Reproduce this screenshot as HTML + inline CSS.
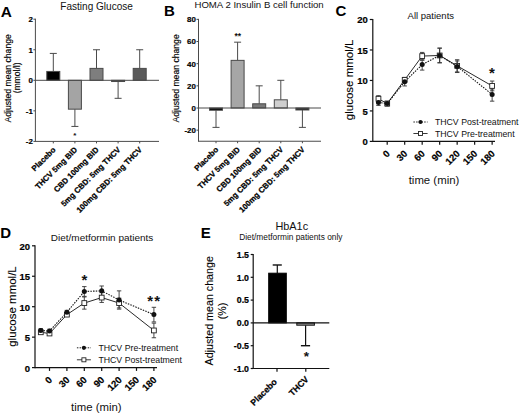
<!DOCTYPE html>
<html><head><meta charset="utf-8"><style>
html,body{margin:0;padding:0;background:#fff;}
body{width:520px;height:414px;overflow:hidden;}
svg{display:block;}
text{font-family:"Liberation Sans", sans-serif;}
</style></head><body>
<svg width="520" height="414" viewBox="0 0 520 414">
<rect width="520" height="414" fill="#fff"/>
<text x="0.80" y="16.50" font-size="15.4" font-weight="bold" text-anchor="start" fill="#000">A</text>
<text x="164.10" y="15.60" font-size="15" font-weight="bold" text-anchor="start" fill="#000">B</text>
<text x="335.50" y="16.30" font-size="15" font-weight="bold" text-anchor="start" fill="#000">C</text>
<text x="0.30" y="238.30" font-size="15" font-weight="bold" text-anchor="start" fill="#000">D</text>
<text x="200.80" y="237.80" font-size="15" font-weight="bold" text-anchor="start" fill="#000">E</text>
<g>
<text x="96.60" y="9.80" font-size="10.05" text-anchor="middle" fill="#111">Fasting Glucose</text>
<text x="11.30" y="78.35" font-size="8.63" text-anchor="middle" fill="#000" transform="rotate(-90 11.30 78.35)" stroke="#000" stroke-width="0.15">Adjusted mean change</text>
<text x="19.90" y="77.85" font-size="8.5" text-anchor="middle" fill="#000" transform="rotate(-90 19.90 77.85)" stroke="#000" stroke-width="0.15">(mmol/l)</text>
<line x1="53.30" y1="71.44" x2="53.30" y2="53.42" stroke="#4a4a4a" stroke-width="1"/>
<line x1="49.80" y1="53.42" x2="56.80" y2="53.42" stroke="#4a4a4a" stroke-width="1"/>
<rect x="46.80" y="71.44" width="13.00" height="8.86" fill="#000" stroke="#4a4a4a" stroke-width="1"/>
<line x1="74.90" y1="109.17" x2="74.90" y2="126.43" stroke="#4a4a4a" stroke-width="1"/>
<line x1="71.40" y1="126.43" x2="78.40" y2="126.43" stroke="#4a4a4a" stroke-width="1"/>
<rect x="68.40" y="80.30" width="13.00" height="28.87" fill="#a4a4a4" stroke="#4a4a4a" stroke-width="1"/>
<line x1="96.50" y1="68.39" x2="96.50" y2="49.75" stroke="#4a4a4a" stroke-width="1"/>
<line x1="93.00" y1="49.75" x2="100.00" y2="49.75" stroke="#4a4a4a" stroke-width="1"/>
<rect x="90.00" y="68.39" width="13.00" height="11.91" fill="#7e7e7e" stroke="#4a4a4a" stroke-width="1"/>
<line x1="118.10" y1="81.52" x2="118.10" y2="98.32" stroke="#4a4a4a" stroke-width="1"/>
<line x1="114.60" y1="98.32" x2="121.60" y2="98.32" stroke="#4a4a4a" stroke-width="1"/>
<rect x="111.60" y="80.30" width="13.00" height="1.22" fill="#333" stroke="#4a4a4a" stroke-width="1"/>
<line x1="139.70" y1="68.39" x2="139.70" y2="49.75" stroke="#4a4a4a" stroke-width="1"/>
<line x1="136.20" y1="49.75" x2="143.20" y2="49.75" stroke="#4a4a4a" stroke-width="1"/>
<rect x="133.20" y="68.39" width="13.00" height="11.91" fill="#5a5a5a" stroke="#4a4a4a" stroke-width="1"/>
<line x1="35.40" y1="18.70" x2="35.40" y2="141.90" stroke="#4a4a4a" stroke-width="1"/>
<line x1="35.40" y1="141.40" x2="159.00" y2="141.40" stroke="#4a4a4a" stroke-width="1"/>
<line x1="35.40" y1="80.30" x2="159.00" y2="80.30" stroke="#4a4a4a" stroke-width="1"/>
<line x1="33.40" y1="19.20" x2="35.40" y2="19.20" stroke="#4a4a4a" stroke-width="1"/>
<text x="32.80" y="22.04" font-size="7.9" font-weight="bold" text-anchor="end" fill="#000" stroke="#000" stroke-width="0.2">2</text>
<line x1="33.40" y1="49.75" x2="35.40" y2="49.75" stroke="#4a4a4a" stroke-width="1"/>
<text x="32.80" y="52.59" font-size="7.9" font-weight="bold" text-anchor="end" fill="#000" stroke="#000" stroke-width="0.2">1</text>
<line x1="33.40" y1="80.30" x2="35.40" y2="80.30" stroke="#4a4a4a" stroke-width="1"/>
<text x="32.80" y="83.14" font-size="7.9" font-weight="bold" text-anchor="end" fill="#000" stroke="#000" stroke-width="0.2">0</text>
<line x1="33.40" y1="110.85" x2="35.40" y2="110.85" stroke="#4a4a4a" stroke-width="1"/>
<text x="32.80" y="113.69" font-size="7.9" font-weight="bold" text-anchor="end" fill="#000" stroke="#000" stroke-width="0.2">-1</text>
<line x1="33.40" y1="141.40" x2="35.40" y2="141.40" stroke="#4a4a4a" stroke-width="1"/>
<text x="32.80" y="144.24" font-size="7.9" font-weight="bold" text-anchor="end" fill="#000" stroke="#000" stroke-width="0.2">-2</text>
<line x1="53.30" y1="141.40" x2="53.30" y2="143.40" stroke="#4a4a4a" stroke-width="1"/>
<text x="56.20" y="150.30" font-size="7.9" font-weight="bold" text-anchor="end" fill="#000" transform="rotate(-45 56.20 150.30)" stroke="#000" stroke-width="0.25">Placebo</text>
<line x1="74.90" y1="141.40" x2="74.90" y2="143.40" stroke="#4a4a4a" stroke-width="1"/>
<text x="77.80" y="150.30" font-size="7.9" font-weight="bold" text-anchor="end" fill="#000" transform="rotate(-45 77.80 150.30)" stroke="#000" stroke-width="0.25">THCV 5mg BID</text>
<line x1="96.50" y1="141.40" x2="96.50" y2="143.40" stroke="#4a4a4a" stroke-width="1"/>
<text x="99.40" y="150.30" font-size="7.9" font-weight="bold" text-anchor="end" fill="#000" transform="rotate(-45 99.40 150.30)" stroke="#000" stroke-width="0.25">CBD 100mg BID</text>
<line x1="118.10" y1="141.40" x2="118.10" y2="143.40" stroke="#4a4a4a" stroke-width="1"/>
<text x="121.00" y="150.30" font-size="7.9" font-weight="bold" text-anchor="end" fill="#000" transform="rotate(-45 121.00 150.30)" stroke="#000" stroke-width="0.25">5mg CBD: 5mg THCV</text>
<line x1="139.70" y1="141.40" x2="139.70" y2="143.40" stroke="#4a4a4a" stroke-width="1"/>
<text x="142.60" y="150.30" font-size="7.9" font-weight="bold" text-anchor="end" fill="#000" transform="rotate(-45 142.60 150.30)" stroke="#000" stroke-width="0.25">100mg CBD: 5mg THCV</text>
<text x="74.90" y="137.90" font-size="8" font-weight="bold" text-anchor="middle" fill="#111">*</text>
<text x="259.10" y="7.80" font-size="9.62" text-anchor="middle" fill="#111">HOMA 2 Insulin B cell function</text>
<text x="179.30" y="78.40" font-size="8.63" text-anchor="middle" fill="#000" transform="rotate(-90 179.30 78.40)" stroke="#000" stroke-width="0.15">Adjusted mean change</text>
<line x1="216.00" y1="110.22" x2="216.00" y2="127.39" stroke="#4a4a4a" stroke-width="1"/>
<line x1="212.50" y1="127.39" x2="219.50" y2="127.39" stroke="#4a4a4a" stroke-width="1"/>
<rect x="209.50" y="108.00" width="13.00" height="2.22" fill="#000" stroke="#4a4a4a" stroke-width="1"/>
<line x1="237.60" y1="60.36" x2="237.60" y2="42.18" stroke="#4a4a4a" stroke-width="1"/>
<line x1="234.10" y1="42.18" x2="241.10" y2="42.18" stroke="#4a4a4a" stroke-width="1"/>
<rect x="231.10" y="60.36" width="13.00" height="47.64" fill="#a6a6a6" stroke="#4a4a4a" stroke-width="1"/>
<line x1="259.20" y1="103.79" x2="259.20" y2="85.84" stroke="#4a4a4a" stroke-width="1"/>
<line x1="255.70" y1="85.84" x2="262.70" y2="85.84" stroke="#4a4a4a" stroke-width="1"/>
<rect x="252.70" y="103.79" width="13.00" height="4.21" fill="#7a7a7a" stroke="#4a4a4a" stroke-width="1"/>
<line x1="280.80" y1="99.80" x2="280.80" y2="80.30" stroke="#4a4a4a" stroke-width="1"/>
<line x1="277.30" y1="80.30" x2="284.30" y2="80.30" stroke="#4a4a4a" stroke-width="1"/>
<rect x="274.30" y="99.80" width="13.00" height="8.20" fill="#cfcfcf" stroke="#4a4a4a" stroke-width="1"/>
<line x1="302.40" y1="109.99" x2="302.40" y2="127.39" stroke="#4a4a4a" stroke-width="1"/>
<line x1="298.90" y1="127.39" x2="305.90" y2="127.39" stroke="#4a4a4a" stroke-width="1"/>
<rect x="295.90" y="108.00" width="13.00" height="1.99" fill="#222" stroke="#4a4a4a" stroke-width="1"/>
<line x1="198.50" y1="18.86" x2="198.50" y2="141.74" stroke="#4a4a4a" stroke-width="1"/>
<line x1="198.50" y1="141.24" x2="321.00" y2="141.24" stroke="#4a4a4a" stroke-width="1"/>
<line x1="198.50" y1="108.00" x2="321.00" y2="108.00" stroke="#4a4a4a" stroke-width="1"/>
<line x1="196.50" y1="19.36" x2="198.50" y2="19.36" stroke="#4a4a4a" stroke-width="1"/>
<text x="195.90" y="22.20" font-size="7.9" font-weight="bold" text-anchor="end" fill="#000" stroke="#000" stroke-width="0.2">80</text>
<line x1="196.50" y1="41.52" x2="198.50" y2="41.52" stroke="#4a4a4a" stroke-width="1"/>
<text x="195.90" y="44.36" font-size="7.9" font-weight="bold" text-anchor="end" fill="#000" stroke="#000" stroke-width="0.2">60</text>
<line x1="196.50" y1="63.68" x2="198.50" y2="63.68" stroke="#4a4a4a" stroke-width="1"/>
<text x="195.90" y="66.52" font-size="7.9" font-weight="bold" text-anchor="end" fill="#000" stroke="#000" stroke-width="0.2">40</text>
<line x1="196.50" y1="85.84" x2="198.50" y2="85.84" stroke="#4a4a4a" stroke-width="1"/>
<text x="195.90" y="88.68" font-size="7.9" font-weight="bold" text-anchor="end" fill="#000" stroke="#000" stroke-width="0.2">20</text>
<line x1="196.50" y1="108.00" x2="198.50" y2="108.00" stroke="#4a4a4a" stroke-width="1"/>
<text x="195.90" y="110.84" font-size="7.9" font-weight="bold" text-anchor="end" fill="#000" stroke="#000" stroke-width="0.2">0</text>
<line x1="196.50" y1="130.16" x2="198.50" y2="130.16" stroke="#4a4a4a" stroke-width="1"/>
<text x="195.90" y="133.00" font-size="7.9" font-weight="bold" text-anchor="end" fill="#000" stroke="#000" stroke-width="0.2">-20</text>
<line x1="216.00" y1="141.24" x2="216.00" y2="143.24" stroke="#4a4a4a" stroke-width="1"/>
<text x="218.90" y="150.14" font-size="7.9" font-weight="bold" text-anchor="end" fill="#000" transform="rotate(-45 218.90 150.14)" stroke="#000" stroke-width="0.25">Placebo</text>
<line x1="237.60" y1="141.24" x2="237.60" y2="143.24" stroke="#4a4a4a" stroke-width="1"/>
<text x="240.50" y="150.14" font-size="7.9" font-weight="bold" text-anchor="end" fill="#000" transform="rotate(-45 240.50 150.14)" stroke="#000" stroke-width="0.25">THCV 5mg BID</text>
<line x1="259.20" y1="141.24" x2="259.20" y2="143.24" stroke="#4a4a4a" stroke-width="1"/>
<text x="262.10" y="150.14" font-size="7.9" font-weight="bold" text-anchor="end" fill="#000" transform="rotate(-45 262.10 150.14)" stroke="#000" stroke-width="0.25">CBD 100mg BID</text>
<line x1="280.80" y1="141.24" x2="280.80" y2="143.24" stroke="#4a4a4a" stroke-width="1"/>
<text x="283.70" y="150.14" font-size="7.9" font-weight="bold" text-anchor="end" fill="#000" transform="rotate(-45 283.70 150.14)" stroke="#000" stroke-width="0.25">5mg CBD: 5mg THCV</text>
<line x1="302.40" y1="141.24" x2="302.40" y2="143.24" stroke="#4a4a4a" stroke-width="1"/>
<text x="305.30" y="150.14" font-size="7.9" font-weight="bold" text-anchor="end" fill="#000" transform="rotate(-45 305.30 150.14)" stroke="#000" stroke-width="0.25">100mg CBD: 5mg THCV</text>
<text x="237.70" y="39.30" font-size="8.5" font-weight="bold" text-anchor="middle" fill="#111">**</text>
<polyline points="378.45,102.39 387.20,103.61 404.69,81.67 422.18,64.60 439.67,55.46 457.16,66.43 492.14,94.47" fill="none" stroke="#111" stroke-width="1.1" stroke-dasharray="1.5,1.2"/>
<line x1="378.45" y1="102.39" x2="378.45" y2="99.34" stroke="#333" stroke-width="0.9"/>
<line x1="376.25" y1="99.34" x2="380.65" y2="99.34" stroke="#333" stroke-width="0.9"/>
<line x1="378.45" y1="102.39" x2="378.45" y2="105.44" stroke="#333" stroke-width="0.9"/>
<line x1="376.25" y1="105.44" x2="380.65" y2="105.44" stroke="#333" stroke-width="0.9"/>
<line x1="387.20" y1="103.61" x2="387.20" y2="101.17" stroke="#333" stroke-width="0.9"/>
<line x1="385.00" y1="101.17" x2="389.40" y2="101.17" stroke="#333" stroke-width="0.9"/>
<line x1="387.20" y1="103.61" x2="387.20" y2="106.05" stroke="#333" stroke-width="0.9"/>
<line x1="385.00" y1="106.05" x2="389.40" y2="106.05" stroke="#333" stroke-width="0.9"/>
<line x1="404.69" y1="81.67" x2="404.69" y2="78.01" stroke="#333" stroke-width="0.9"/>
<line x1="402.49" y1="78.01" x2="406.89" y2="78.01" stroke="#333" stroke-width="0.9"/>
<line x1="404.69" y1="81.67" x2="404.69" y2="85.94" stroke="#333" stroke-width="0.9"/>
<line x1="402.49" y1="85.94" x2="406.89" y2="85.94" stroke="#333" stroke-width="0.9"/>
<line x1="422.18" y1="64.60" x2="422.18" y2="60.34" stroke="#333" stroke-width="0.9"/>
<line x1="419.98" y1="60.34" x2="424.38" y2="60.34" stroke="#333" stroke-width="0.9"/>
<line x1="422.18" y1="64.60" x2="422.18" y2="70.09" stroke="#333" stroke-width="0.9"/>
<line x1="419.98" y1="70.09" x2="424.38" y2="70.09" stroke="#333" stroke-width="0.9"/>
<line x1="439.67" y1="55.46" x2="439.67" y2="48.15" stroke="#333" stroke-width="0.9"/>
<line x1="437.47" y1="48.15" x2="441.87" y2="48.15" stroke="#333" stroke-width="0.9"/>
<line x1="439.67" y1="55.46" x2="439.67" y2="62.77" stroke="#333" stroke-width="0.9"/>
<line x1="437.47" y1="62.77" x2="441.87" y2="62.77" stroke="#333" stroke-width="0.9"/>
<line x1="457.16" y1="66.43" x2="457.16" y2="60.95" stroke="#333" stroke-width="0.9"/>
<line x1="454.96" y1="60.95" x2="459.36" y2="60.95" stroke="#333" stroke-width="0.9"/>
<line x1="457.16" y1="66.43" x2="457.16" y2="72.53" stroke="#333" stroke-width="0.9"/>
<line x1="454.96" y1="72.53" x2="459.36" y2="72.53" stroke="#333" stroke-width="0.9"/>
<line x1="492.14" y1="94.47" x2="492.14" y2="88.98" stroke="#333" stroke-width="0.9"/>
<line x1="489.94" y1="88.98" x2="494.34" y2="88.98" stroke="#333" stroke-width="0.9"/>
<line x1="492.14" y1="94.47" x2="492.14" y2="101.17" stroke="#333" stroke-width="0.9"/>
<line x1="489.94" y1="101.17" x2="494.34" y2="101.17" stroke="#333" stroke-width="0.9"/>
<polyline points="378.45,98.74 387.20,103.61 404.69,79.84 422.18,56.07 439.67,55.46 457.16,65.82 492.14,85.94" fill="none" stroke="#111" stroke-width="0.9"/>
<line x1="378.45" y1="98.74" x2="378.45" y2="95.69" stroke="#333" stroke-width="0.9"/>
<line x1="376.25" y1="95.69" x2="380.65" y2="95.69" stroke="#333" stroke-width="0.9"/>
<line x1="378.45" y1="98.74" x2="378.45" y2="101.78" stroke="#333" stroke-width="0.9"/>
<line x1="376.25" y1="101.78" x2="380.65" y2="101.78" stroke="#333" stroke-width="0.9"/>
<line x1="387.20" y1="103.61" x2="387.20" y2="101.78" stroke="#333" stroke-width="0.9"/>
<line x1="385.00" y1="101.78" x2="389.40" y2="101.78" stroke="#333" stroke-width="0.9"/>
<line x1="387.20" y1="103.61" x2="387.20" y2="105.44" stroke="#333" stroke-width="0.9"/>
<line x1="385.00" y1="105.44" x2="389.40" y2="105.44" stroke="#333" stroke-width="0.9"/>
<line x1="404.69" y1="79.84" x2="404.69" y2="77.40" stroke="#333" stroke-width="0.9"/>
<line x1="402.49" y1="77.40" x2="406.89" y2="77.40" stroke="#333" stroke-width="0.9"/>
<line x1="404.69" y1="79.84" x2="404.69" y2="82.28" stroke="#333" stroke-width="0.9"/>
<line x1="402.49" y1="82.28" x2="406.89" y2="82.28" stroke="#333" stroke-width="0.9"/>
<line x1="422.18" y1="56.07" x2="422.18" y2="52.41" stroke="#333" stroke-width="0.9"/>
<line x1="419.98" y1="52.41" x2="424.38" y2="52.41" stroke="#333" stroke-width="0.9"/>
<line x1="422.18" y1="56.07" x2="422.18" y2="59.73" stroke="#333" stroke-width="0.9"/>
<line x1="419.98" y1="59.73" x2="424.38" y2="59.73" stroke="#333" stroke-width="0.9"/>
<line x1="439.67" y1="55.46" x2="439.67" y2="48.15" stroke="#333" stroke-width="0.9"/>
<line x1="437.47" y1="48.15" x2="441.87" y2="48.15" stroke="#333" stroke-width="0.9"/>
<line x1="439.67" y1="55.46" x2="439.67" y2="62.77" stroke="#333" stroke-width="0.9"/>
<line x1="437.47" y1="62.77" x2="441.87" y2="62.77" stroke="#333" stroke-width="0.9"/>
<line x1="457.16" y1="65.82" x2="457.16" y2="59.73" stroke="#333" stroke-width="0.9"/>
<line x1="454.96" y1="59.73" x2="459.36" y2="59.73" stroke="#333" stroke-width="0.9"/>
<line x1="457.16" y1="65.82" x2="457.16" y2="71.92" stroke="#333" stroke-width="0.9"/>
<line x1="454.96" y1="71.92" x2="459.36" y2="71.92" stroke="#333" stroke-width="0.9"/>
<line x1="492.14" y1="85.94" x2="492.14" y2="81.06" stroke="#333" stroke-width="0.9"/>
<line x1="489.94" y1="81.06" x2="494.34" y2="81.06" stroke="#333" stroke-width="0.9"/>
<line x1="492.14" y1="85.94" x2="492.14" y2="90.81" stroke="#333" stroke-width="0.9"/>
<line x1="489.94" y1="90.81" x2="494.34" y2="90.81" stroke="#333" stroke-width="0.9"/>
<rect x="376.06" y="96.34" width="4.8" height="4.8" fill="#fff" stroke="#222" stroke-width="0.9"/>
<rect x="384.80" y="101.21" width="4.8" height="4.8" fill="#fff" stroke="#222" stroke-width="0.9"/>
<rect x="402.29" y="77.44" width="4.8" height="4.8" fill="#fff" stroke="#222" stroke-width="0.9"/>
<rect x="419.78" y="53.67" width="4.8" height="4.8" fill="#fff" stroke="#222" stroke-width="0.9"/>
<rect x="437.27" y="53.06" width="4.8" height="4.8" fill="#fff" stroke="#222" stroke-width="0.9"/>
<rect x="454.76" y="63.42" width="4.8" height="4.8" fill="#fff" stroke="#222" stroke-width="0.9"/>
<rect x="489.74" y="83.54" width="4.8" height="4.8" fill="#fff" stroke="#222" stroke-width="0.9"/>
<circle cx="378.45" cy="102.39" r="2.5" fill="#111"/>
<circle cx="387.20" cy="103.61" r="2.5" fill="#111"/>
<circle cx="404.69" cy="81.67" r="2.5" fill="#111"/>
<circle cx="422.18" cy="64.60" r="2.5" fill="#111"/>
<circle cx="439.67" cy="55.46" r="2.5" fill="#111"/>
<circle cx="457.16" cy="66.43" r="2.5" fill="#111"/>
<circle cx="492.14" cy="94.47" r="2.5" fill="#111"/>
<line x1="372.80" y1="19.00" x2="372.80" y2="142.00" stroke="#111" stroke-width="1.2"/>
<line x1="372.80" y1="141.40" x2="495.00" y2="141.40" stroke="#111" stroke-width="1.2"/>
<line x1="369.80" y1="19.50" x2="372.80" y2="19.50" stroke="#111" stroke-width="1.2"/>
<text x="367.80" y="23.49" font-size="9.5" font-weight="bold" text-anchor="end" fill="#000" stroke="#000" stroke-width="0.2">20</text>
<line x1="369.80" y1="49.98" x2="372.80" y2="49.98" stroke="#111" stroke-width="1.2"/>
<text x="367.80" y="53.97" font-size="9.5" font-weight="bold" text-anchor="end" fill="#000" stroke="#000" stroke-width="0.2">15</text>
<line x1="369.80" y1="80.45" x2="372.80" y2="80.45" stroke="#111" stroke-width="1.2"/>
<text x="367.80" y="84.44" font-size="9.5" font-weight="bold" text-anchor="end" fill="#000" stroke="#000" stroke-width="0.2">10</text>
<line x1="369.80" y1="110.93" x2="372.80" y2="110.93" stroke="#111" stroke-width="1.2"/>
<text x="367.80" y="114.92" font-size="9.5" font-weight="bold" text-anchor="end" fill="#000" stroke="#000" stroke-width="0.2">5</text>
<line x1="369.80" y1="141.40" x2="372.80" y2="141.40" stroke="#111" stroke-width="1.2"/>
<text x="367.80" y="145.39" font-size="9.5" font-weight="bold" text-anchor="end" fill="#000" stroke="#000" stroke-width="0.2">0</text>
<line x1="387.20" y1="141.40" x2="387.20" y2="144.70" stroke="#111" stroke-width="1.2"/>
<text x="390.50" y="154.20" font-size="9.5" font-weight="bold" text-anchor="end" fill="#000" transform="rotate(-45 390.50 154.20)" stroke="#000" stroke-width="0.2">0</text>
<line x1="404.69" y1="141.40" x2="404.69" y2="144.70" stroke="#111" stroke-width="1.2"/>
<text x="407.99" y="154.20" font-size="9.5" font-weight="bold" text-anchor="end" fill="#000" transform="rotate(-45 407.99 154.20)" stroke="#000" stroke-width="0.2">30</text>
<line x1="422.18" y1="141.40" x2="422.18" y2="144.70" stroke="#111" stroke-width="1.2"/>
<text x="425.48" y="154.20" font-size="9.5" font-weight="bold" text-anchor="end" fill="#000" transform="rotate(-45 425.48 154.20)" stroke="#000" stroke-width="0.2">60</text>
<line x1="439.67" y1="141.40" x2="439.67" y2="144.70" stroke="#111" stroke-width="1.2"/>
<text x="442.97" y="154.20" font-size="9.5" font-weight="bold" text-anchor="end" fill="#000" transform="rotate(-45 442.97 154.20)" stroke="#000" stroke-width="0.2">90</text>
<line x1="457.16" y1="141.40" x2="457.16" y2="144.70" stroke="#111" stroke-width="1.2"/>
<text x="460.46" y="154.20" font-size="9.5" font-weight="bold" text-anchor="end" fill="#000" transform="rotate(-45 460.46 154.20)" stroke="#000" stroke-width="0.2">120</text>
<line x1="474.65" y1="141.40" x2="474.65" y2="144.70" stroke="#111" stroke-width="1.2"/>
<text x="477.95" y="154.20" font-size="9.5" font-weight="bold" text-anchor="end" fill="#000" transform="rotate(-45 477.95 154.20)" stroke="#000" stroke-width="0.2">150</text>
<line x1="492.14" y1="141.40" x2="492.14" y2="144.70" stroke="#111" stroke-width="1.2"/>
<text x="495.44" y="154.20" font-size="9.5" font-weight="bold" text-anchor="end" fill="#000" transform="rotate(-45 495.44 154.20)" stroke="#000" stroke-width="0.2">180</text>
<text x="434.00" y="183.80" font-size="11.4" text-anchor="middle" fill="#111">time (min)</text>
<text x="353.50" y="79.90" font-size="11.5" text-anchor="middle" fill="#000" transform="rotate(-90 353.50 79.90)" stroke="#000" stroke-width="0.1">glucose mmol/L</text>
<text x="430.80" y="18.60" font-size="9.5" text-anchor="middle" fill="#111">All patients</text>
<text x="492.00" y="78.20" font-size="15" font-weight="bold" text-anchor="middle" fill="#111">*</text>
<line x1="413.40" y1="122.00" x2="427.60" y2="122.00" stroke="#222" stroke-width="1.0" stroke-dasharray="1.5,1.2"/>
<circle cx="420.5" cy="122" r="2.1" fill="#111"/>
<text x="434.90" y="125.10" font-size="8.75" text-anchor="start" fill="#111">THCV Post-treatment</text>
<line x1="413.40" y1="133.50" x2="427.60" y2="133.50" stroke="#222" stroke-width="0.9"/>
<rect x="418.5" y="131.5" width="4" height="4" fill="#fff" stroke="#222" stroke-width="0.9"/>
<text x="434.90" y="136.60" font-size="8.75" text-anchor="start" fill="#111">THCV Pre-treatment</text>
<polyline points="40.80,330.45 49.50,331.06 66.90,312.18 84.30,291.48 101.70,290.87 119.10,300.00 153.90,314.62" fill="none" stroke="#111" stroke-width="1.1" stroke-dasharray="1.5,1.2"/>
<line x1="40.80" y1="330.45" x2="40.80" y2="328.62" stroke="#333" stroke-width="0.9"/>
<line x1="38.60" y1="328.62" x2="43.00" y2="328.62" stroke="#333" stroke-width="0.9"/>
<line x1="40.80" y1="330.45" x2="40.80" y2="332.28" stroke="#333" stroke-width="0.9"/>
<line x1="38.60" y1="332.28" x2="43.00" y2="332.28" stroke="#333" stroke-width="0.9"/>
<line x1="49.50" y1="331.06" x2="49.50" y2="329.23" stroke="#333" stroke-width="0.9"/>
<line x1="47.30" y1="329.23" x2="51.70" y2="329.23" stroke="#333" stroke-width="0.9"/>
<line x1="49.50" y1="331.06" x2="49.50" y2="332.89" stroke="#333" stroke-width="0.9"/>
<line x1="47.30" y1="332.89" x2="51.70" y2="332.89" stroke="#333" stroke-width="0.9"/>
<line x1="66.90" y1="312.18" x2="66.90" y2="310.35" stroke="#333" stroke-width="0.9"/>
<line x1="64.70" y1="310.35" x2="69.10" y2="310.35" stroke="#333" stroke-width="0.9"/>
<line x1="66.90" y1="312.18" x2="66.90" y2="314.01" stroke="#333" stroke-width="0.9"/>
<line x1="64.70" y1="314.01" x2="69.10" y2="314.01" stroke="#333" stroke-width="0.9"/>
<line x1="84.30" y1="291.48" x2="84.30" y2="286.60" stroke="#333" stroke-width="0.9"/>
<line x1="82.10" y1="286.60" x2="86.50" y2="286.60" stroke="#333" stroke-width="0.9"/>
<line x1="84.30" y1="291.48" x2="84.30" y2="296.35" stroke="#333" stroke-width="0.9"/>
<line x1="82.10" y1="296.35" x2="86.50" y2="296.35" stroke="#333" stroke-width="0.9"/>
<line x1="101.70" y1="290.87" x2="101.70" y2="285.99" stroke="#333" stroke-width="0.9"/>
<line x1="99.50" y1="285.99" x2="103.90" y2="285.99" stroke="#333" stroke-width="0.9"/>
<line x1="101.70" y1="290.87" x2="101.70" y2="295.74" stroke="#333" stroke-width="0.9"/>
<line x1="99.50" y1="295.74" x2="103.90" y2="295.74" stroke="#333" stroke-width="0.9"/>
<line x1="119.10" y1="300.00" x2="119.10" y2="290.87" stroke="#333" stroke-width="0.9"/>
<line x1="116.90" y1="290.87" x2="121.30" y2="290.87" stroke="#333" stroke-width="0.9"/>
<line x1="119.10" y1="300.00" x2="119.10" y2="309.14" stroke="#333" stroke-width="0.9"/>
<line x1="116.90" y1="309.14" x2="121.30" y2="309.14" stroke="#333" stroke-width="0.9"/>
<line x1="153.90" y1="314.62" x2="153.90" y2="307.31" stroke="#333" stroke-width="0.9"/>
<line x1="151.70" y1="307.31" x2="156.10" y2="307.31" stroke="#333" stroke-width="0.9"/>
<line x1="153.90" y1="314.62" x2="153.90" y2="321.93" stroke="#333" stroke-width="0.9"/>
<line x1="151.70" y1="321.93" x2="156.10" y2="321.93" stroke="#333" stroke-width="0.9"/>
<polyline points="40.80,332.28 49.50,333.50 66.90,314.62 84.30,303.05 101.70,297.57 119.10,303.05 153.90,330.45" fill="none" stroke="#111" stroke-width="0.9"/>
<line x1="40.80" y1="332.28" x2="40.80" y2="330.45" stroke="#333" stroke-width="0.9"/>
<line x1="38.60" y1="330.45" x2="43.00" y2="330.45" stroke="#333" stroke-width="0.9"/>
<line x1="40.80" y1="332.28" x2="40.80" y2="334.11" stroke="#333" stroke-width="0.9"/>
<line x1="38.60" y1="334.11" x2="43.00" y2="334.11" stroke="#333" stroke-width="0.9"/>
<line x1="49.50" y1="333.50" x2="49.50" y2="331.67" stroke="#333" stroke-width="0.9"/>
<line x1="47.30" y1="331.67" x2="51.70" y2="331.67" stroke="#333" stroke-width="0.9"/>
<line x1="49.50" y1="333.50" x2="49.50" y2="335.32" stroke="#333" stroke-width="0.9"/>
<line x1="47.30" y1="335.32" x2="51.70" y2="335.32" stroke="#333" stroke-width="0.9"/>
<line x1="66.90" y1="314.62" x2="66.90" y2="312.79" stroke="#333" stroke-width="0.9"/>
<line x1="64.70" y1="312.79" x2="69.10" y2="312.79" stroke="#333" stroke-width="0.9"/>
<line x1="66.90" y1="314.62" x2="66.90" y2="316.44" stroke="#333" stroke-width="0.9"/>
<line x1="64.70" y1="316.44" x2="69.10" y2="316.44" stroke="#333" stroke-width="0.9"/>
<line x1="84.30" y1="303.05" x2="84.30" y2="296.96" stroke="#333" stroke-width="0.9"/>
<line x1="82.10" y1="296.96" x2="86.50" y2="296.96" stroke="#333" stroke-width="0.9"/>
<line x1="84.30" y1="303.05" x2="84.30" y2="309.14" stroke="#333" stroke-width="0.9"/>
<line x1="82.10" y1="309.14" x2="86.50" y2="309.14" stroke="#333" stroke-width="0.9"/>
<line x1="101.70" y1="297.57" x2="101.70" y2="292.69" stroke="#333" stroke-width="0.9"/>
<line x1="99.50" y1="292.69" x2="103.90" y2="292.69" stroke="#333" stroke-width="0.9"/>
<line x1="101.70" y1="297.57" x2="101.70" y2="302.44" stroke="#333" stroke-width="0.9"/>
<line x1="99.50" y1="302.44" x2="103.90" y2="302.44" stroke="#333" stroke-width="0.9"/>
<line x1="119.10" y1="303.05" x2="119.10" y2="298.17" stroke="#333" stroke-width="0.9"/>
<line x1="116.90" y1="298.17" x2="121.30" y2="298.17" stroke="#333" stroke-width="0.9"/>
<line x1="119.10" y1="303.05" x2="119.10" y2="307.92" stroke="#333" stroke-width="0.9"/>
<line x1="116.90" y1="307.92" x2="121.30" y2="307.92" stroke="#333" stroke-width="0.9"/>
<line x1="153.90" y1="330.45" x2="153.90" y2="323.14" stroke="#333" stroke-width="0.9"/>
<line x1="151.70" y1="323.14" x2="156.10" y2="323.14" stroke="#333" stroke-width="0.9"/>
<line x1="153.90" y1="330.45" x2="153.90" y2="337.76" stroke="#333" stroke-width="0.9"/>
<line x1="151.70" y1="337.76" x2="156.10" y2="337.76" stroke="#333" stroke-width="0.9"/>
<rect x="38.40" y="329.88" width="4.8" height="4.8" fill="#fff" stroke="#222" stroke-width="0.9"/>
<rect x="47.10" y="331.10" width="4.8" height="4.8" fill="#fff" stroke="#222" stroke-width="0.9"/>
<rect x="64.50" y="312.22" width="4.8" height="4.8" fill="#fff" stroke="#222" stroke-width="0.9"/>
<rect x="81.90" y="300.65" width="4.8" height="4.8" fill="#fff" stroke="#222" stroke-width="0.9"/>
<rect x="99.30" y="295.17" width="4.8" height="4.8" fill="#fff" stroke="#222" stroke-width="0.9"/>
<rect x="116.70" y="300.65" width="4.8" height="4.8" fill="#fff" stroke="#222" stroke-width="0.9"/>
<rect x="151.50" y="328.05" width="4.8" height="4.8" fill="#fff" stroke="#222" stroke-width="0.9"/>
<circle cx="40.80" cy="330.45" r="2.5" fill="#111"/>
<circle cx="49.50" cy="331.06" r="2.5" fill="#111"/>
<circle cx="66.90" cy="312.18" r="2.5" fill="#111"/>
<circle cx="84.30" cy="291.48" r="2.5" fill="#111"/>
<circle cx="101.70" cy="290.87" r="2.5" fill="#111"/>
<circle cx="119.10" cy="300.00" r="2.5" fill="#111"/>
<circle cx="153.90" cy="314.62" r="2.5" fill="#111"/>
<line x1="35.00" y1="245.30" x2="35.00" y2="368.20" stroke="#111" stroke-width="1.2"/>
<line x1="35.00" y1="367.60" x2="157.00" y2="367.60" stroke="#111" stroke-width="1.2"/>
<line x1="32.00" y1="245.80" x2="35.00" y2="245.80" stroke="#111" stroke-width="1.2"/>
<text x="30.00" y="249.79" font-size="9.5" font-weight="bold" text-anchor="end" fill="#000" stroke="#000" stroke-width="0.2">20</text>
<line x1="32.00" y1="276.25" x2="35.00" y2="276.25" stroke="#111" stroke-width="1.2"/>
<text x="30.00" y="280.24" font-size="9.5" font-weight="bold" text-anchor="end" fill="#000" stroke="#000" stroke-width="0.2">15</text>
<line x1="32.00" y1="306.70" x2="35.00" y2="306.70" stroke="#111" stroke-width="1.2"/>
<text x="30.00" y="310.69" font-size="9.5" font-weight="bold" text-anchor="end" fill="#000" stroke="#000" stroke-width="0.2">10</text>
<line x1="32.00" y1="337.15" x2="35.00" y2="337.15" stroke="#111" stroke-width="1.2"/>
<text x="30.00" y="341.14" font-size="9.5" font-weight="bold" text-anchor="end" fill="#000" stroke="#000" stroke-width="0.2">5</text>
<line x1="32.00" y1="367.60" x2="35.00" y2="367.60" stroke="#111" stroke-width="1.2"/>
<text x="30.00" y="371.59" font-size="9.5" font-weight="bold" text-anchor="end" fill="#000" stroke="#000" stroke-width="0.2">0</text>
<line x1="49.50" y1="367.60" x2="49.50" y2="370.90" stroke="#111" stroke-width="1.2"/>
<text x="52.80" y="380.40" font-size="9.5" font-weight="bold" text-anchor="end" fill="#000" transform="rotate(-45 52.80 380.40)" stroke="#000" stroke-width="0.2">0</text>
<line x1="66.90" y1="367.60" x2="66.90" y2="370.90" stroke="#111" stroke-width="1.2"/>
<text x="70.20" y="380.40" font-size="9.5" font-weight="bold" text-anchor="end" fill="#000" transform="rotate(-45 70.20 380.40)" stroke="#000" stroke-width="0.2">30</text>
<line x1="84.30" y1="367.60" x2="84.30" y2="370.90" stroke="#111" stroke-width="1.2"/>
<text x="87.60" y="380.40" font-size="9.5" font-weight="bold" text-anchor="end" fill="#000" transform="rotate(-45 87.60 380.40)" stroke="#000" stroke-width="0.2">60</text>
<line x1="101.70" y1="367.60" x2="101.70" y2="370.90" stroke="#111" stroke-width="1.2"/>
<text x="105.00" y="380.40" font-size="9.5" font-weight="bold" text-anchor="end" fill="#000" transform="rotate(-45 105.00 380.40)" stroke="#000" stroke-width="0.2">90</text>
<line x1="119.10" y1="367.60" x2="119.10" y2="370.90" stroke="#111" stroke-width="1.2"/>
<text x="122.40" y="380.40" font-size="9.5" font-weight="bold" text-anchor="end" fill="#000" transform="rotate(-45 122.40 380.40)" stroke="#000" stroke-width="0.2">120</text>
<line x1="136.50" y1="367.60" x2="136.50" y2="370.90" stroke="#111" stroke-width="1.2"/>
<text x="139.80" y="380.40" font-size="9.5" font-weight="bold" text-anchor="end" fill="#000" transform="rotate(-45 139.80 380.40)" stroke="#000" stroke-width="0.2">150</text>
<line x1="153.90" y1="367.60" x2="153.90" y2="370.90" stroke="#111" stroke-width="1.2"/>
<text x="157.20" y="380.40" font-size="9.5" font-weight="bold" text-anchor="end" fill="#000" transform="rotate(-45 157.20 380.40)" stroke="#000" stroke-width="0.2">180</text>
<text x="96.30" y="410.80" font-size="11.4" text-anchor="middle" fill="#111">time (min)</text>
<text x="15.60" y="306.50" font-size="11.5" text-anchor="middle" fill="#000" transform="rotate(-90 15.60 306.50)" stroke="#000" stroke-width="0.1">glucose mmol/L</text>
<text x="102.10" y="240.50" font-size="9.98" text-anchor="middle" fill="#111">Diet/metformin patients</text>
<text x="84.30" y="285.00" font-size="15" font-weight="bold" text-anchor="middle" fill="#111">*</text>
<text x="154.30" y="305.60" font-size="15" font-weight="bold" text-anchor="middle" fill="#111" letter-spacing="1.1">**</text>
<line x1="76.90" y1="347.80" x2="90.90" y2="347.80" stroke="#222" stroke-width="1.0" stroke-dasharray="1.5,1.2"/>
<circle cx="83.9" cy="347.8" r="2.1" fill="#111"/>
<text x="98.40" y="350.70" font-size="8.75" text-anchor="start" fill="#111">THCV Pre-treatment</text>
<line x1="76.90" y1="359.80" x2="90.90" y2="359.80" stroke="#222" stroke-width="0.9"/>
<rect x="81.9" y="357.8" width="4" height="4" fill="#fff" stroke="#222" stroke-width="0.9"/>
<text x="98.40" y="362.50" font-size="8.75" text-anchor="start" fill="#111">THCV Post-treatment</text>
<text x="291.80" y="230.40" font-size="10.9" text-anchor="middle" fill="#111">HbA1c</text>
<text x="290.85" y="240.40" font-size="8.33" text-anchor="middle" fill="#111">Diet/metformin patients only</text>
<text x="213.30" y="310.80" font-size="10.7" text-anchor="middle" fill="#000" transform="rotate(-90 213.30 310.80)" stroke="#000" stroke-width="0.1">Adjusted mean change</text>
<text x="225.80" y="311.00" font-size="10.7" text-anchor="middle" fill="#000" transform="rotate(-90 225.80 311.00)" stroke="#000" stroke-width="0.1">(%)</text>
<line x1="277.30" y1="273.20" x2="277.30" y2="264.99" stroke="#111" stroke-width="1.2"/>
<line x1="272.70" y1="264.99" x2="281.80" y2="264.99" stroke="#111" stroke-width="1.4"/>
<rect x="268.70" y="273.20" width="17.60" height="49.70" fill="#000" stroke="#000" stroke-width="1"/>
<line x1="305.60" y1="325.18" x2="305.60" y2="345.70" stroke="#111" stroke-width="1.2"/>
<line x1="300.90" y1="345.70" x2="310.10" y2="345.70" stroke="#111" stroke-width="1.4"/>
<rect x="296.80" y="322.90" width="17.60" height="2.28" fill="#999" stroke="#111" stroke-width="1"/>
<line x1="253.20" y1="254.00" x2="253.20" y2="369.10" stroke="#111" stroke-width="1.2"/>
<line x1="253.20" y1="368.50" x2="329.30" y2="368.50" stroke="#111" stroke-width="1.2"/>
<line x1="253.20" y1="322.90" x2="329.30" y2="322.90" stroke="#111" stroke-width="1.2"/>
<line x1="250.70" y1="254.50" x2="253.20" y2="254.50" stroke="#111" stroke-width="1.2"/>
<text x="249.00" y="257.70" font-size="8.8" font-weight="bold" text-anchor="end" fill="#000" stroke="#000" stroke-width="0.2">1.5</text>
<line x1="250.70" y1="277.30" x2="253.20" y2="277.30" stroke="#111" stroke-width="1.2"/>
<text x="249.00" y="280.50" font-size="8.8" font-weight="bold" text-anchor="end" fill="#000" stroke="#000" stroke-width="0.2">1.0</text>
<line x1="250.70" y1="300.10" x2="253.20" y2="300.10" stroke="#111" stroke-width="1.2"/>
<text x="249.00" y="303.30" font-size="8.8" font-weight="bold" text-anchor="end" fill="#000" stroke="#000" stroke-width="0.2">0.5</text>
<line x1="250.70" y1="322.90" x2="253.20" y2="322.90" stroke="#111" stroke-width="1.2"/>
<text x="249.00" y="326.10" font-size="8.8" font-weight="bold" text-anchor="end" fill="#000" stroke="#000" stroke-width="0.2">0.0</text>
<line x1="250.70" y1="345.70" x2="253.20" y2="345.70" stroke="#111" stroke-width="1.2"/>
<text x="249.00" y="348.90" font-size="8.8" font-weight="bold" text-anchor="end" fill="#000" stroke="#000" stroke-width="0.2">-0.5</text>
<line x1="250.70" y1="368.50" x2="253.20" y2="368.50" stroke="#111" stroke-width="1.2"/>
<text x="249.00" y="371.70" font-size="8.8" font-weight="bold" text-anchor="end" fill="#000" stroke="#000" stroke-width="0.2">-1.0</text>
<line x1="277.00" y1="368.50" x2="277.00" y2="371.80" stroke="#111" stroke-width="1.2"/>
<text x="277.60" y="382.60" font-size="8.7" font-weight="bold" text-anchor="end" fill="#000" transform="rotate(-45 277.60 382.60)" stroke="#000" stroke-width="0.25">Placebo</text>
<line x1="305.80" y1="368.50" x2="305.80" y2="371.80" stroke="#111" stroke-width="1.2"/>
<text x="309.20" y="379.80" font-size="8.7" font-weight="bold" text-anchor="end" fill="#000" transform="rotate(-45 309.20 379.80)" stroke="#000" stroke-width="0.25">THCV</text>
<text x="306.50" y="361.20" font-size="13.5" font-weight="bold" text-anchor="middle" fill="#111">*</text>
</g>
</svg>
</body></html>
